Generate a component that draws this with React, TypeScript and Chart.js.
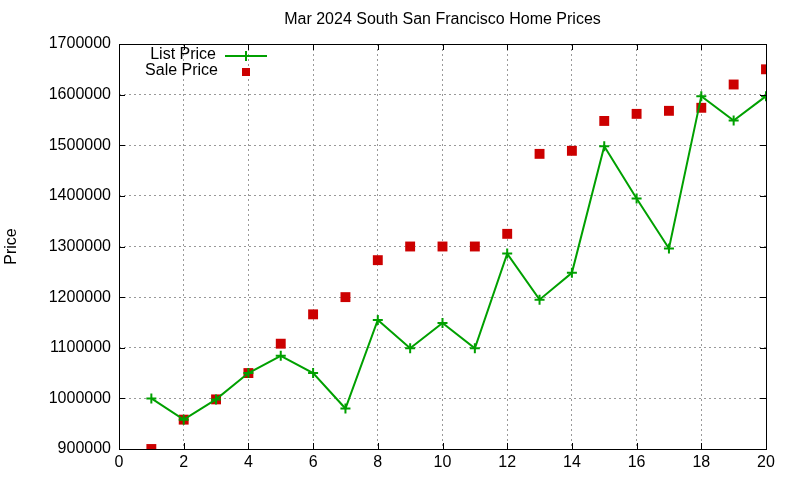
import { Chart, registerables } from "chart.js";
import { useEffect, useRef } from "react";

Chart.register(...registerables);

const days = [1, 2, 3, 4, 5, 6, 7, 8, 9, 10, 11, 12, 13, 14, 15, 16, 17, 18, 19, 20];
const listPrice = [
  1000000, 958000, 998000, 1050000, 1084000, 1050000, 980000, 1155000, 1099000, 1149000,
  1099000, 1286000, 1195000, 1248000, 1498000, 1395000, 1296000, 1597000, 1549000, 1597000,
];
const salePrice = [
  900000, 958000, 998000, 1050000, 1108000, 1166000, 1200000, 1273000, 1300000, 1300000,
  1300000, 1325000, 1483000, 1489000, 1548000, 1562000, 1568000, 1574000, 1620000, 1650000,
];

const FONT = "'Liberation Sans', Arial, sans-serif";

// title, y label, legend and the closed frame, gnuplot style
const gnuplotBits = {
  id: "gnuplotBits",
  afterDraw(chart: any) {
    const { ctx, chartArea } = chart;
    const { left, right, top, bottom } = chartArea;
    ctx.save();
    ctx.strokeStyle = "#000";
    ctx.lineWidth = 1;
    ctx.strokeRect(left + 0.5, top + 0.5, right - left, bottom - top);

    // small inward ticks
    const xs = chart.scales.x;
    const ys = chart.scales.y;
    ctx.beginPath();
    for (let v = 0; v <= 20; v += 2) {
      const px = Math.round(xs.getPixelForValue(v)) + 0.5;
      ctx.moveTo(px, bottom);
      ctx.lineTo(px, bottom - 6);
      ctx.moveTo(px, top);
      ctx.lineTo(px, top + 6);
    }
    for (let v = 900000; v <= 1700000; v += 100000) {
      const py = Math.round(ys.getPixelForValue(v)) + 0.5;
      ctx.moveTo(left, py);
      ctx.lineTo(left + 6, py);
      ctx.moveTo(right, py);
      ctx.lineTo(right - 6, py);
    }
    ctx.stroke();

    ctx.fillStyle = "#000";
    ctx.font = `16px ${FONT}`;
    ctx.textAlign = "center";
    ctx.textBaseline = "middle";
    ctx.fillText("Mar 2024 South San Francisco Home Prices", (left + right) / 2, 20);

    ctx.save();
    ctx.translate(12, (top + bottom) / 2);
    ctx.rotate(-Math.PI / 2);
    ctx.font = `16px ${FONT}`;
    ctx.fillText("Price", 0, 0);
    ctx.restore();

    // legend
    ctx.font = `16px ${FONT}`;
    ctx.textAlign = "right";
    ctx.fillText("List Price", 216, 55);
    ctx.fillText("Sale Price", 218, 71);
    ctx.strokeStyle = "#00a000";
    ctx.lineWidth = 2;
    ctx.beginPath();
    ctx.moveTo(225, 56);
    ctx.lineTo(267, 56);
    ctx.moveTo(246, 51);
    ctx.lineTo(246, 61);
    ctx.stroke();
    ctx.fillStyle = "#cc0000";
    ctx.fillRect(242, 68, 8, 8);
    ctx.restore();
  },
};

export default function App() {
  const canvasRef = useRef<HTMLCanvasElement>(null);

  useEffect(() => {
    const ctx = canvasRef.current!.getContext("2d")!;
    const chart = new Chart(ctx, {
      type: "line",
      data: {
        datasets: [
          {
            label: "List Price",
            data: days.map((d, i) => ({ x: d, y: listPrice[i] })),
            borderColor: "#00a000",
            backgroundColor: "#00a000",
            borderWidth: 2,
            pointStyle: "cross",
            pointRadius: 5,
            pointBorderWidth: 2,
            tension: 0,
            fill: false,
          },
          {
            label: "Sale Price",
            data: days.map((d, i) => ({ x: d, y: salePrice[i] })),
            showLine: false,
            borderColor: "#cc0000",
            backgroundColor: "#cc0000",
            pointStyle: "rect",
            pointRadius: 7,
            pointBorderWidth: 0,
          },
        ],
      },
      options: {
        responsive: false,
        animation: false,
        layout: { padding: { top: 44, right: 34, left: 0, bottom: 0 } },
        plugins: {
          legend: { display: false },
          title: { display: false },
          tooltip: { enabled: false },
        },
        scales: {
          x: {
            type: "linear",
            min: 0,
            max: 20,
            ticks: { stepSize: 2, color: "#000", font: { family: FONT, size: 16 }, padding: 4 },
            grid: { color: "#999", drawTicks: false },
            border: { display: false, dash: [2, 3] },
            afterFit: (s: any) => {
              s.height = 31;
            },
          },
          y: {
            min: 900000,
            max: 1700000,
            ticks: {
              stepSize: 100000,
              color: "#000",
              font: { family: FONT, size: 16 },
              padding: 8,
              callback: (v: any) => String(v),
            },
            grid: { color: "#999", drawTicks: false },
            border: { display: false, dash: [2, 3] },
            afterFit: (s: any) => {
              s.width = 119;
            },
          },
        },
      },
      plugins: [gnuplotBits],
    });
    return () => {
      chart.destroy();
    };
  }, []);

  return (
    <div style={{ position: "fixed", left: 0, top: 0, width: 800, height: 480, background: "#fff" }}>
      <canvas ref={canvasRef} width={800} height={480} />
    </div>
  );
}
